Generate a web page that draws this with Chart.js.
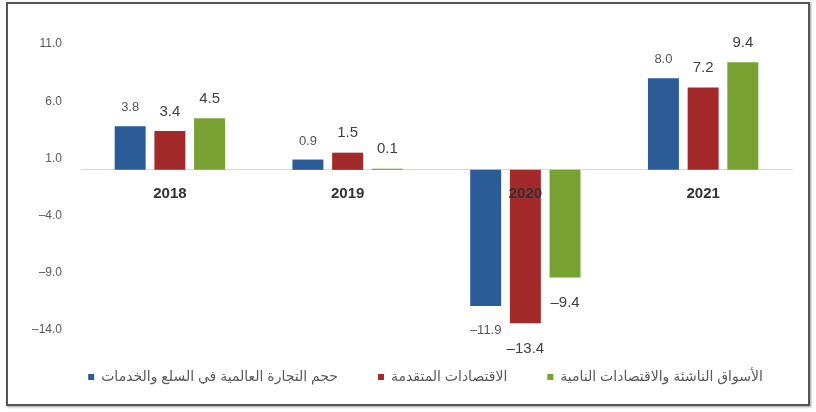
<!DOCTYPE html>
<html>
<head>
<meta charset="utf-8">
<script src="https://cdn.jsdelivr.net/npm/chart.js@4/dist/chart.umd.min.js"></script>
<style>
  body { margin: 0; background: #fff; }
  #wrap { position: relative; width: 816px; height: 412px; }
  #frame { position: absolute; left: 6px; top: 2px; width: 800px; height: 400px;
           border: 2px solid #555; box-shadow: 1px 1px 2px #999; }
  #chart { position: absolute; left: 0; top: 0; }
</style>
</head>
<body>
<div id="wrap">
  <div id="frame"></div>
  <canvas id="chart" width="816" height="412"></canvas>
</div>
<script>
// values
const years = ['2018', '2019', '2020', '2021'];
const worldTrade = [3.8, 0.9, -11.9, 8.0];
const advanced = [3.4, 1.5, -13.4, 7.2];
const emerging = [4.5, 0.1, -9.4, 9.4];
const yTicks = [-14, -9, -4, 1, 6, 11];

const seriesNames = [
    'حجم التجارة العالمية في السلع والخدمات',
    'الاقتصادات المتقدمة',
    'الأسواق الناشئة والاقتصادات النامية'
];
const seriesColors = ['#2b5c98', '#a3292b', '#77a232'];

const fmt = v => (v < 0 ? '\u2013' : '') + Math.abs(v).toFixed(1);

// value labels above / below each bar
const barLabels = {
    id: 'barLabels',
    afterDatasetsDraw(chart) {
        const ctx = chart.ctx;
        ctx.save();
        ctx.textAlign = 'center';
        chart.data.datasets.forEach((ds, i) => {
            const meta = chart.getDatasetMeta(i);
            const size = i === 0 ? 13 : 15;
            ctx.font = size + 'px "Liberation Sans", Arial, sans-serif';
            ctx.fillStyle = i === 0 ? '#555' : '#404040';
            meta.data.forEach((bar, j) => {
                const v = ds.data[j];
                if (v >= 0) {
                    ctx.textBaseline = 'bottom';
                    ctx.fillText(fmt(v), bar.x, bar.y - 12);
                } else {
                    ctx.textBaseline = 'top';
                    ctx.fillText(fmt(v), bar.x, bar.y + 18);
                }
            });
        });
        ctx.restore();
    }
};

// the original legend sits a little right of the canvas centre
const legendShift = {
    id: 'legendShift',
    afterLayout(chart) {
        chart.legend.left += 24;
        chart.legend.right += 24;
    }
};

new Chart(document.getElementById('chart'), {
    type: 'bar',
    data: {
        labels: years,
        datasets: [
            { label: seriesNames[0], data: worldTrade, backgroundColor: seriesColors[0] },
            { label: seriesNames[1], data: advanced, backgroundColor: seriesColors[1] },
            { label: seriesNames[2], data: emerging, backgroundColor: seriesColors[2] }
        ]
    },
    options: {
        responsive: false,
        animation: false,
        categoryPercentage: 0.67,
        barPercentage: 0.78,
        layout: { padding: { top: 44, left: 11, right: 24, bottom: 18 } },
        scales: {
            x: {
                position: { y: 0 },
                grid: { display: false, drawTicks: false },
                border: { display: true, color: '#d9d9d9', width: 1 },
                ticks: {
                    z: 1,
                    padding: 15,
                    color: '#333',
                    font: { family: '"Liberation Sans", Arial, sans-serif', size: 15, weight: 'bold' }
                }
            },
            y: {
                min: -14,
                max: 11,
                afterBuildTicks: scale => { scale.ticks = yTicks.map(v => ({ value: v })); },
                afterFit: scale => { scale.width = 70; },
                grid: { display: false, drawTicks: false },
                border: { display: false },
                ticks: {
                    padding: 19,
                    color: '#595959',
                    font: { family: '"Liberation Sans", Arial, sans-serif', size: 12 },
                    callback: v => fmt(v)
                }
            }
        },
        plugins: {
            legend: {
                position: 'bottom',
                labels: {
                    boxWidth: 6,
                    boxHeight: 6,
                    padding: 40,
                    color: '#595959',
                    font: { family: '"Liberation Sans", "DejaVu Sans", sans-serif', size: 14 }
                }
            },
            tooltip: { enabled: false }
        }
    },
    plugins: [barLabels, legendShift]
});
</script>
</body>
</html>
